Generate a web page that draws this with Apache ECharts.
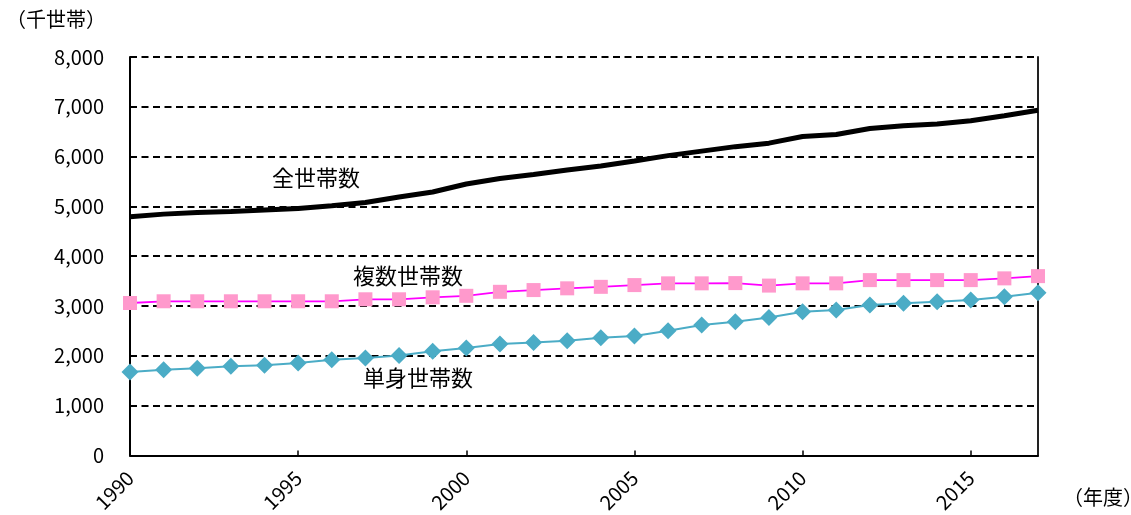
<!DOCTYPE html>
<html>
<head>
<meta charset="utf-8">
<script src="https://cdn.jsdelivr.net/npm/echarts@6/dist/echarts.min.js"></script>
<style>
  html, body { margin: 0; padding: 0; background: #fff; }
  #chart { width: 1131px; height: 515px; }
</style>
</head>
<body>
<div id="chart"></div>
<script>
// 年度
const years = ['1990','1991','1992','1993','1994','1995','1996','1997','1998','1999',
               '2000','2001','2002','2003','2004','2005','2006','2007','2008','2009',
               '2010','2011','2012','2013','2014','2015','2016','2017'];

// 全世帯数（千世帯）
const allHouseholds = [4790, 4845, 4880, 4900, 4930, 4960, 5015, 5080, 5190, 5290,
                       5450, 5560, 5640, 5730, 5810, 5910, 6020, 6110, 6200, 6270,
                       6405, 6445, 6565, 6620, 6655, 6720, 6820, 6930];

// 複数世帯数（千世帯）
const multiHouseholds = [3060, 3095, 3095, 3095, 3095, 3095, 3095, 3135, 3135, 3175,
                         3205, 3285, 3320, 3355, 3385, 3420, 3455, 3455, 3460, 3410,
                         3455, 3455, 3520, 3520, 3520, 3520, 3555, 3600];

// 単身世帯数（千世帯）
const singleHouseholds = [1675, 1720, 1750, 1790, 1810, 1855, 1920, 1955, 2005, 2090,
                          2155, 2235, 2265, 2300, 2365, 2400, 2505, 2620, 2685, 2770,
                          2885, 2920, 3020, 3055, 3085, 3120, 3185, 3265];

const seriesNames = ['全世帯数', '複数世帯数', '単身世帯数'];
const yUnit = '（千世帯）';
const xUnit = '（年度）';

const FONT = '"Noto Sans CJK JP", "Liberation Sans", sans-serif';

const chart = echarts.init(document.getElementById('chart'), null, { renderer: 'canvas' });

chart.setOption({
  animation: false,
  backgroundColor: '#fff',
  textStyle: { fontFamily: FONT, color: '#000' },
  grid: { left: 130, right: 93, top: 57, bottom: 58, containLabel: false },
  xAxis: {
    type: 'category',
    data: years,
    boundaryGap: false,
    axisLine: { show: true, lineStyle: { color: '#000', width: 2 } },
    axisTick: { show: true, inside: true, length: 5, interval: 4, lineStyle: { color: '#000', width: 1.5 } },
    axisLabel: {
      interval: 4, rotate: 45, margin: 19,
      fontSize: 20, color: '#000', fontFamily: FONT
    },
    splitLine: { show: false }
  },
  yAxis: [{
    type: 'value',
    min: 0, max: 8000, interval: 1000,
    axisLine: { show: true, lineStyle: { color: '#000', width: 2 } },
    axisTick: { show: false },
    axisLabel: {
      margin: 26, fontSize: 20, color: '#000', fontFamily: FONT,
      formatter: v => v.toLocaleString('en-US')
    },
    splitLine: { show: true, lineStyle: { color: '#000', width: 2, type: [7, 4.5] } }
  }, {
    type: 'value',
    position: 'right',
    min: 0, max: 8000, interval: 1000,
    axisLine: { show: true, lineStyle: { color: '#222', width: 2 } },
    axisTick: { show: false },
    axisLabel: { show: false },
    splitLine: { show: false }
  }],
  series: [{
    name: seriesNames[0],
    type: 'line',
    data: allHouseholds,
    showSymbol: false,
    symbol: 'none',
    lineStyle: { color: '#000', width: 5 },
    z: 3
  }, {
    name: seriesNames[1],
    type: 'line',
    data: multiHouseholds,
    symbol: 'rect',
    symbolSize: 14,
    itemStyle: { color: '#FF99CC' },
    lineStyle: { color: '#FF00FF', width: 1.8 },
    z: 4
  }, {
    name: seriesNames[2],
    type: 'line',
    data: singleHouseholds,
    symbol: 'diamond',
    symbolSize: 17,
    itemStyle: { color: '#4BACC6' },
    lineStyle: { color: '#4BACC6', width: 2 },
    z: 4
  }],
  graphic: [
    { type: 'text', left: 6, top: 9, style: { text: yUnit, font: '20px ' + FONT, fill: '#000' } },
    { type: 'text', left: 1063, top: 487, style: { text: xUnit, font: '20px ' + FONT, fill: '#000' } },
    { type: 'text', x: 316, y: 178, style: { text: seriesNames[0], font: '22px ' + FONT, fill: '#000', align: 'center', verticalAlign: 'middle' } },
    { type: 'text', x: 408, y: 276, style: { text: seriesNames[1], font: '22px ' + FONT, fill: '#000', align: 'center', verticalAlign: 'middle' } },
    { type: 'text', x: 418, y: 378, style: { text: seriesNames[2], font: '22px ' + FONT, fill: '#000', align: 'center', verticalAlign: 'middle' } }
  ]
});
</script>
</body>
</html>
